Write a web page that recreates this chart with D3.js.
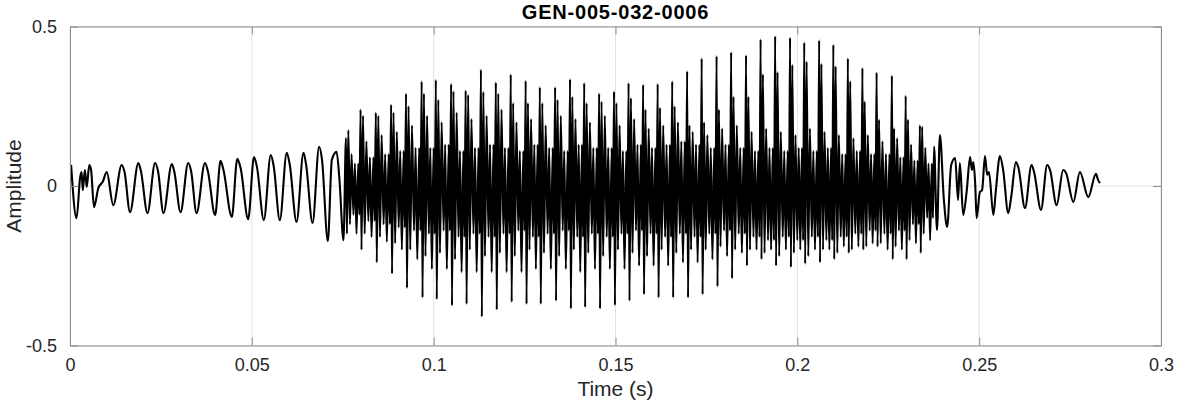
<!DOCTYPE html>
<html><head><meta charset="utf-8">
<script src="https://cdn.jsdelivr.net/npm/d3@7"></script>
<style>
html,body{margin:0;padding:0;background:#fff;}
text{font-family:"Liberation Sans",Arial,sans-serif;}
</style></head>
<body><svg id="c" width="1177" height="404"></svg>
<script>
// ---- data ----
const titleText = "GEN-005-032-0006";
const xLabel = "Time (s)";
const yLabel = "Amplitude";
const xTicks = [0, 0.05, 0.1, 0.15, 0.2, 0.25, 0.3];
const xTickLabels = ["0", "0.05", "0.1", "0.15", "0.2", "0.25", "0.3"];
const yTicks = [-0.5, 0, 0.5];
const yTickLabels = ["-0.5", "0", "0.5"];

// head (low-frequency part) vertices
const headT = [0.0003,0.0018,0.0028,0.0032,0.0035,0.0041,0.0046,0.0053,0.0058,0.0066,0.0078,0.0090,0.0101,0.0119,0.0142,0.0150,0.0165,0.0188,0.0195,0.0213,0.0234,0.0242,0.0257,0.0280,0.0287,0.0304,0.0325,0.0333,0.0348,0.0371,0.0379,0.0399,0.0414,0.0422,0.0445,0.0460,0.0469,0.0490,0.0506,0.0514,0.0533,0.0552,0.0560,0.0577,0.0596,0.0604,0.0623,0.0642,0.0649,0.0667,0.0685,0.0693,0.0709,0.0720,0.0733,0.0741,0.0752];
const headA = [0.066,-0.101,0.028,0.044,-0.013,0.050,-0.003,0.066,0.050,-0.066,-0.006,0.013,0.044,-0.060,0.066,0.044,-0.082,0.072,0.047,-0.085,0.072,0.047,-0.085,0.069,0.044,-0.082,0.072,0.047,-0.085,0.072,0.047,-0.091,0.079,0.050,-0.097,0.085,0.057,-0.104,0.091,0.060,-0.107,0.097,0.063,-0.107,0.104,0.069,-0.113,0.104,0.069,-0.116,0.123,0.082,-0.173,0.082,0.107,0.019,-0.170];

// dense voiced part: one entry per pitch cycle
const cycleT = [0.0759,0.0799,0.0841,0.0883,0.0924,0.0967,0.1006,0.1048,0.1088,0.1130,0.1171,0.1212,0.1253,0.1292,0.1334,0.1375,0.1414,0.1455,0.1496,0.1536,0.1576,0.1616,0.1656,0.1697,0.1737,0.1778,0.1818,0.1859,0.1899,0.1939,0.1980,0.2019,0.2060,0.2099,0.2139,0.2179,0.2218,0.2260,0.2298,0.2337];
const peakMain = [0.15,0.24,0.23,0.255,0.29,0.328,0.333,0.32,0.30,0.365,0.325,0.35,0.33,0.31,0.31,0.335,0.323,0.29,0.297,0.323,0.318,0.32,0.328,0.36,0.40,0.407,0.42,0.41,0.46,0.47,0.465,0.45,0.457,0.443,0.40,0.37,0.356,0.346,0.283,0.19];
const troughMain = [-0.15,-0.20,-0.24,-0.275,-0.32,-0.35,-0.355,-0.375,-0.37,-0.41,-0.388,-0.364,-0.37,-0.37,-0.36,-0.385,-0.38,-0.385,-0.374,-0.36,-0.34,-0.35,-0.35,-0.35,-0.34,-0.315,-0.29,-0.25,-0.23,-0.25,-0.255,-0.244,-0.24,-0.23,-0.21,-0.2,-0.19,-0.23,-0.23,-0.21];
const peak2 = [0.175,0.22,0.22,0.23,0.25,0.29,0.27,0.297,0.286,0.295,0.29,0.26,0.26,0.26,0.27,0.28,0.26,0.265,0.26,0.276,0.24,0.245,0.25,0.19,0.20,0.24,0.28,0.28,0.35,0.357,0.38,0.39,0.383,0.375,0.328,0.265,0.208,0.181,0.208,0.186];
const trough2 = [-0.12,-0.15,-0.16,-0.18,-0.20,-0.22,-0.21,-0.23,-0.20,-0.22,-0.21,-0.22,-0.20,-0.21,-0.22,-0.20,-0.21,-0.22,-0.20,-0.21,-0.22,-0.20,-0.21,-0.20,-0.20,-0.19,-0.20,-0.20,-0.21,-0.22,-0.21,-0.22,-0.20,-0.21,-0.20,-0.19,-0.18,-0.19,-0.17,-0.15];
const peak3 = [0.10,0.14,0.16,0.17,0.19,0.22,0.20,0.23,0.21,0.22,0.24,0.20,0.21,0.19,0.22,0.21,0.20,0.22,0.19,0.21,0.18,0.19,0.20,0.17,0.16,0.18,0.19,0.17,0.18,0.17,0.16,0.18,0.17,0.16,0.15,0.16,0.14,0.15,0.13,0.12];
const troughMid = [-0.15,-0.16,-0.175,-0.2,-0.23,-0.26,-0.26,-0.27,-0.27,-0.27,-0.27,-0.27,-0.26,-0.26,-0.26,-0.27,-0.26,-0.26,-0.26,-0.25,-0.25,-0.25,-0.24,-0.24,-0.23,-0.22,-0.21,-0.2,-0.2,-0.2,-0.2,-0.2,-0.2,-0.19,-0.19,-0.18,-0.2,-0.2,-0.18,-0.17];
const bandHi = [0.07,0.09,0.10,0.11,0.12,0.12,0.13,0.11,0.12,0.13,0.12,0.11,0.13,0.12,0.11,0.13,0.12,0.12,0.11,0.13,0.12,0.13,0.14,0.13,0.12,0.13,0.12,0.11,0.12,0.11,0.12,0.11,0.12,0.10,0.11,0.10,0.10,0.09,0.08,0.07];
const bandLo = [-0.09,-0.11,-0.12,-0.13,-0.14,-0.15,-0.14,-0.16,-0.15,-0.16,-0.15,-0.14,-0.16,-0.15,-0.14,-0.16,-0.15,-0.16,-0.15,-0.14,-0.15,-0.16,-0.15,-0.16,-0.15,-0.14,-0.15,-0.16,-0.17,-0.16,-0.17,-0.16,-0.17,-0.16,-0.15,-0.14,-0.15,-0.14,-0.12,-0.10];

// tail (decaying low-frequency part) vertices
const tailT = [0.2376,0.2384,0.2392,0.2403,0.2412,0.2423,0.2434,0.2442,0.2447,0.2456,0.2466,0.2475,0.2480,0.2484,0.2489,0.2493,0.2502,0.2508,0.2516,0.2522,0.2527,0.2539,0.2546,0.2557,0.2566,0.2580,0.2588,0.2601,0.2608,0.2626,0.2644,0.2651,0.2670,0.2687,0.2695,0.2713,0.2731,0.2739,0.2759,0.2777,0.2800,0.2821,0.2827,0.2832];
const tailA = [0.124,-0.138,0.160,-0.044,-0.128,0.066,0.088,-0.044,0.072,-0.091,-0.013,0.091,0.050,0.075,0.009,-0.101,-0.019,-0.013,0.094,0.035,0.044,-0.091,-0.013,0.094,0.050,-0.085,-0.035,0.075,0.057,-0.069,0.066,0.044,-0.075,0.066,0.050,-0.060,0.050,0.041,-0.050,0.044,-0.035,0.038,0.019,0.009];

// ---- build the polyline ----
const pts = [];
headT.forEach((t,i)=>pts.push([t, headA[i]]));
for (let i = 0; i < cycleT.length; i++) {
  const t0 = cycleT[i];
  const P = (i < cycleT.length - 1 ? cycleT[i+1] : tailT[0]) - t0;
  const seq = [
    [0.00, peakMain[i]], [0.06, troughMain[i]], [0.16, peak2[i]], [0.27, trough2[i]],
    [0.38, peak3[i]], [0.51, bandLo[i]], [0.61, bandHi[i]],
    [0.72, troughMid[i]], [0.84, bandHi[i]], [0.92, bandLo[i]]
  ];
  seq.forEach(([f,a]) => pts.push([t0 + f*P, a]));
}
tailT.forEach((t,i)=>pts.push([t, tailA[i]]));

// ---- drawing ----
const svg = d3.select("#c");
const L = 70, R = 1161, T = 26.5, B = 345.5;
const x = d3.scaleLinear().domain([0, 0.3]).range([L, R]);
const y = d3.scaleLinear().domain([-0.5, 0.5]).range([B, T]);

// grid
svg.append("g").selectAll("line").data(xTicks).join("line")
  .attr("x1", d=>x(d)).attr("x2", d=>x(d)).attr("y1", T).attr("y2", B)
  .attr("stroke", "#e3e3e3").attr("stroke-width", 1);
svg.append("g").selectAll("line").data(yTicks).join("line")
  .attr("x1", L).attr("x2", R).attr("y1", d=>y(d)).attr("y2", d=>y(d))
  .attr("stroke", "#e3e3e3").attr("stroke-width", 1);

// signal
const line = d3.line().x(d=>x(d[0])).y(d=>y(d[1])).curve(d3.curveMonotoneX);
svg.append("path").datum(pts).attr("d", line)
  .attr("fill", "none").attr("stroke", "#000").attr("stroke-width", 2.1)
  .attr("stroke-linejoin", "round");

// axes
const xAxis = d3.axisBottom(x).tickValues(xTicks).tickFormat((d,i)=>xTickLabels[i]).tickSizeInner(-8).tickSizeOuter(0).tickPadding(13);
svg.append("g").attr("transform", `translate(0,${B})`).call(xAxis);
const yAxis = d3.axisLeft(y).tickValues(yTicks).tickFormat((d,i)=>yTickLabels[i]).tickSizeInner(-8).tickSizeOuter(0).tickPadding(13);
svg.append("g").attr("transform", `translate(${L},0)`).call(yAxis);
const xAxisTop = d3.axisTop(x).tickValues(xTicks).tickFormat("").tickSizeInner(-8).tickSizeOuter(0);
svg.append("g").attr("transform", `translate(0,${T})`).call(xAxisTop);
const yAxisRight = d3.axisRight(y).tickValues(yTicks).tickFormat("").tickSizeInner(-8).tickSizeOuter(0);
svg.append("g").attr("transform", `translate(${R},0)`).call(yAxisRight);
svg.selectAll(".domain").attr("stroke", "#8c8c8c").attr("stroke-width", 1);
svg.selectAll(".tick line").attr("stroke", "#8c8c8c");
svg.selectAll(".tick text").attr("fill", "#262626").attr("font-size", 18).attr("font-family", "Liberation Sans, Arial, sans-serif");

// labels
svg.append("text").attr("x", (L+R)/2).attr("y", 19).attr("text-anchor", "middle")
  .attr("font-weight", "bold").attr("font-size", 20).attr("letter-spacing", 0.8).attr("fill", "#000").text(titleText);
svg.append("text").attr("x", (L+R)/2).attr("y", 396).attr("text-anchor", "middle")
  .attr("font-size", 21).attr("fill", "#262626").text(xLabel);
svg.append("text").attr("transform", `translate(21,${(T+B)/2}) rotate(-90)`).attr("text-anchor", "middle")
  .attr("font-size", 21).attr("fill", "#262626").text(yLabel);
</script></body></html>
